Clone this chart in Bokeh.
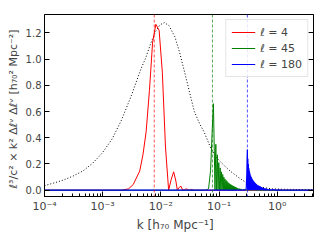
from bokeh.plotting import figure
from bokeh.models import (Range1d, FixedTicker, PrintfTickFormatter, LinearAxis,
                          CustomJSTickFormatter, Span, Legend, LegendItem, Label)
from bokeh.embed import file_html
from bokeh.resources import INLINE

# ---- data (values in units of 1e-9) ----
k_black = [1e-4, 1.45e-4, 2.1e-4, 3.1e-4, 4.55e-4, 6.7e-4, 9.8e-4, 1.45e-3, 2.1e-3, 3.1e-3,
           4.55e-3, 5.5e-3, 6.7e-3, 8.1e-3, 9.7e-3, 0.0115, 0.0138, 0.0174, 0.021, 0.0256,
           0.031, 0.0376, 0.046, 0.0558, 0.0722, 0.09, 0.115, 0.155, 0.22, 0.30, 0.45, 0.81,
           1.6, 4.2]
v_black = [0.035, 0.055, 0.077, 0.108, 0.146, 0.205, 0.283, 0.39, 0.534, 0.72,
           0.925, 1.01, 1.12, 1.21, 1.262, 1.278, 1.255, 1.17, 1.05, 0.90,
           0.75, 0.60, 0.51, 0.44, 0.32, 0.25, 0.20, 0.146, 0.095, 0.055, 0.027, 0.01,
           0.006, 0.004]

k_l4 = [1e-4, 2.11e-3, 2.77e-3, 3.35e-3, 4.33e-3, 4.92e-3, 5.58e-3, 6.36e-3, 7.22e-3, 8.19e-3,
        9.33e-3, 0.0106, 0.0120, 0.0136, 0.0150, 0.0166, 0.0181, 0.0192, 0.0207, 0.0222,
        0.0237, 0.0257, 0.0277, 0.0304, 0.0335, 0.0376, 4.2]
v_l4 = [0, 0, 0.01, 0.043, 0.146, 0.27, 0.445, 0.76, 1.13, 1.265,
        1.22, 0.90, 0.33, 0.0, 0.08, 0.14, 0.07, 0.0, 0.022, 0.03,
        0.0, 0.006, 0.01, 0.0, 0.005, 0.0, 0]

k_l45 = [1e-4, 0.059, 0.066, 0.0715, 0.0762, 0.0800, 0.0828, 0.0852, 0.0880, 0.0907,
         0.0935, 0.0962, 0.0990, 0.1017, 0.1045, 0.1072, 0.1100, 0.1127, 0.1155, 0.1182,
         0.1210, 0.1237, 0.1265, 0.1292, 0.1320, 0.1347, 0.1375, 0.1402, 0.1430, 0.1457,
         0.1485, 0.1512, 0.1540, 0.1567, 0.1595, 0.1622, 0.1650, 0.1677, 0.1705, 0.1732,
         0.1760, 0.1787, 0.1815, 0.1842, 0.1870, 0.1897, 0.1925, 0.1952, 0.1980, 0.2007,
         0.209, 0.215, 0.221, 0.229, 0.237, 0.253, 0.269, 0.285, 0.316, 0.356,
         0.395, 0.47, 4.2]
v_l45 = [0, 0, 0.01, 0.15, 0.45, 0.66, 0.30, 0.0, 0.35, 0.0,
         0.27, 0.0, 0.21, 0.0, 0.17, 0.0, 0.14, 0.0, 0.12, 0.0,
         0.10, 0.0, 0.085, 0.0, 0.075, 0.0, 0.066, 0.0, 0.058, 0.0,
         0.052, 0.0, 0.047, 0.0, 0.042, 0.0, 0.038, 0.0, 0.034, 0.0,
         0.031, 0.0, 0.028, 0.0, 0.025, 0.0, 0.022, 0.0, 0.02, 0.0,
         0.016, 0.0, 0.013, 0.0, 0.01, 0.0, 0.007, 0.0, 0.004, 0.0,
         0.002, 0.0, 0]

k_l180 = [1e-4, 0.28, 0.293, 0.300, 0.304, 0.307, 0.310, 0.313, 0.316, 0.319,
          0.322, 0.325, 0.328, 0.331, 0.334, 0.337, 0.340, 0.343, 0.346, 0.350,
          0.354, 0.358, 0.362, 0.366, 0.370, 0.374, 0.378, 0.383, 0.388, 0.393,
          0.398, 0.403, 0.408, 0.413, 0.418, 0.424, 0.430, 0.436, 0.442, 0.449,
          0.456, 0.463, 0.470, 0.478, 0.486, 0.495, 0.504, 0.514, 0.524, 0.535,
          0.547, 0.560, 0.575, 0.59, 0.61, 0.63, 0.65, 0.675, 0.70, 0.74,
          0.78, 0.85, 0.95, 1.05, 1.2, 4.2]
v_l180 = [0, 0, 0.01, 0.12, 0.25, 0.31, 0.0, 0.24, 0.0, 0.20,
          0.0, 0.17, 0.0, 0.15, 0.0, 0.135, 0.0, 0.12, 0.0, 0.11,
          0.0, 0.10, 0.0, 0.09, 0.0, 0.083, 0.0, 0.076, 0.0, 0.07,
          0.0, 0.063, 0.0, 0.057, 0.0, 0.052, 0.0, 0.047, 0.0, 0.042,
          0.0, 0.038, 0.0, 0.035, 0.0, 0.032, 0.0, 0.028, 0.0, 0.024,
          0.0, 0.02, 0.0, 0.016, 0.0, 0.012, 0.0, 0.009, 0.0, 0.006,
          0.0, 0.004, 0.0, 0.002, 0.0, 0]

k_markers = [0.0077, 0.077, 0.307]
series_labels = ["ℓ = 4", "ℓ = 45", "ℓ = 180"]
series_colors = ["red", "green", "blue"]
y_ticks = [0.0, 0.2, 0.4, 0.6, 0.8, 1.0, 1.2]
x_lo, x_hi = 1e-4, 4.2
y_lo, y_hi = -0.048, 1.34

FONT = "DejaVu Sans"

p = figure(width=317, height=234, x_axis_type="log",
           x_range=Range1d(x_lo, x_hi), y_range=Range1d(y_lo, y_hi),
           output_backend="svg", toolbar_location=None,
           min_border_left=44, min_border_right=4, min_border_top=14, min_border_bottom=31)
p.grid.visible = False
p.outline_line_color = "black"
p.outline_line_width = 1
p.background_fill_color = "white"

# x axis
xa = p.xaxis[0]
xa.axis_label = "k   [h₇₀ Mpc⁻¹]"
xa.axis_label_text_font = FONT
xa.axis_label_text_font_style = "normal"
xa.axis_label_text_font_size = "12px"
xa.axis_label_standoff = 2
xa.major_label_text_font = FONT
xa.major_label_text_font_size = "11px"
xa.major_label_standoff = 3
xa.major_tick_in = 5
xa.major_tick_out = 0
xa.minor_tick_in = 3
xa.minor_tick_out = 0
xa.axis_line_color = "black"
xa.formatter = CustomJSTickFormatter(code="""
const sup = {'-':'\u207b','0':'\u2070','1':'\u00b9','2':'\u00b2','3':'\u00b3','4':'\u2074',
             '5':'\u2075','6':'\u2076','7':'\u2077','8':'\u2078','9':'\u2079'};
const e = Math.round(Math.log10(tick));
return '10' + String(e).split('').map(c => sup[c]).join('');
""")

# y axis
ya = p.yaxis[0]
ya.ticker = FixedTicker(ticks=y_ticks)
ya.formatter = PrintfTickFormatter(format="%.1f")
ya.axis_label = "ℓ³/c² × k² Δℓᵛ Δℓᵛ   [h₇₀² Mpc⁻²]"
ya.axis_label_text_font = FONT
ya.axis_label_text_font_style = "normal"
ya.axis_label_text_font_size = "11px"
ya.axis_label_standoff = 3
ya.major_label_text_font = FONT
ya.major_label_text_font_size = "10px"
ya.major_label_standoff = 3
ya.major_tick_in = 5
ya.major_tick_out = 0
ya.minor_tick_line_color = None
ya.axis_line_color = "black"

# curves
p.line(k_black, v_black, line_color="black", line_dash="1 2", line_width=1)
for km, c in zip(k_markers, series_colors):
    p.add_layout(Span(location=km, dimension="height", line_color=c, line_dash="3 2",
                      line_width=0.8, line_alpha=0.85))

r4 = p.line(k_l4, v_l4, line_color=series_colors[0], line_width=1)
r45 = p.line(k_l45, v_l45, line_color=series_colors[1], line_width=1)
r180 = p.line(k_l180, v_l180, line_color=series_colors[2], line_width=1.2)

legend = Legend(items=[LegendItem(label=series_labels[0], renderers=[r4]),
                       LegendItem(label=series_labels[1], renderers=[r45]),
                       LegendItem(label=series_labels[2], renderers=[r180])],
                location="top_right", label_text_font=FONT, label_text_font_size="11px",
                glyph_width=24, glyph_height=14, label_height=14, spacing=2,
                padding=5, margin=5, border_line_color="#cccccc",
                background_fill_alpha=0.85)
p.add_layout(legend)

# right axis: inward ticks only (added after the legend)
ra = LinearAxis(ticker=FixedTicker(ticks=y_ticks),
                formatter=CustomJSTickFormatter(code="return '';"),
                major_label_text_color=None, major_label_standoff=0,
                major_tick_in=5, major_tick_out=0, minor_tick_line_color=None,
                axis_line_color="black")
p.add_layout(ra, "right")

# offset text above the frame (screen units are measured from the frame's bottom-left)
p.add_layout(Label(x=0, y=201, x_units="screen", y_units="screen", text="1e−9",
                   text_font=FONT, text_font_size="10px", text_baseline="top",
                   text_align="left"))

open("out.html", "w").write(file_html(p, INLINE))
